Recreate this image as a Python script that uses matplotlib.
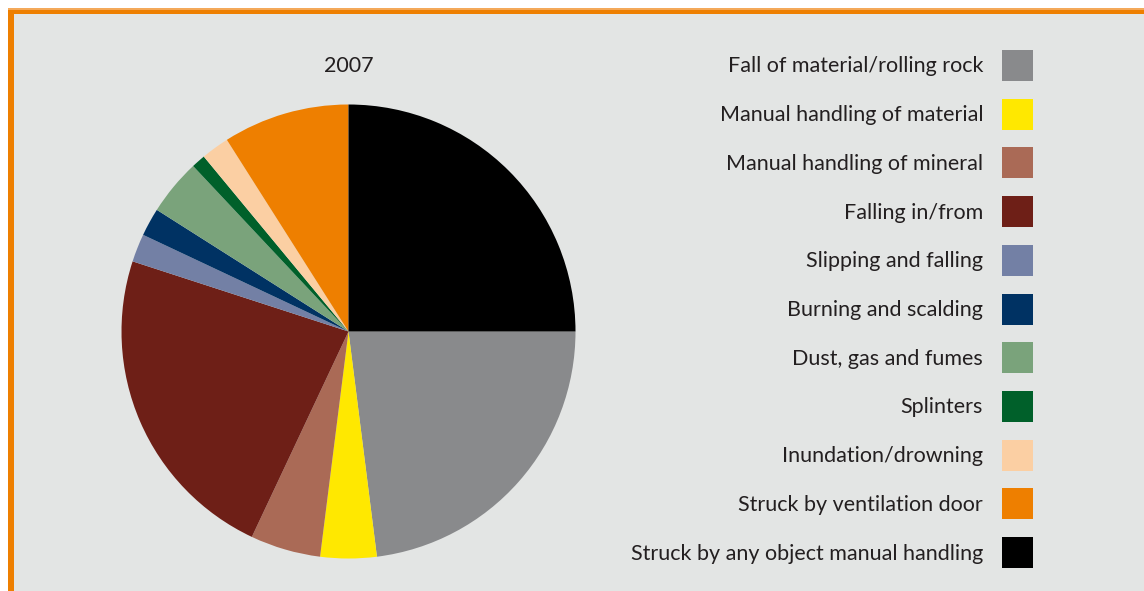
import matplotlib.pyplot as plt
from matplotlib.patches import Rectangle

plt.rcParams['font.family'] = ['Lato', 'DejaVu Sans']

categories = ['Fall of material/rolling rock', 'Manual handling of material',
              'Manual handling of mineral', 'Falling in/from', 'Slipping and falling',
              'Burning and scalding', 'Dust, gas and fumes', 'Splinters',
              'Inundation/drowning', 'Struck by ventilation door',
              'Struck by any object manual handling']
values = [23, 4, 5, 23, 2, 2, 4, 1, 2, 9, 25]
colors = ['#898a8c', '#ffe800', '#aa6a56', '#6e1f17', '#7380a5', '#003263',
          '#7aa37b', '#00602a', '#fbcfa3', '#ee7f00', '#000000']
title = '2007'

W, H = 1144, 591
bg = '#e3e5e4'
txt = '#231f20'

fig = plt.figure(figsize=(W / 100, H / 100), dpi=100)
fig.patch.set_facecolor('white')

# frame: gray panel with orange border top and left
base = fig.add_axes([0, 0, 1, 1])
base.set_xlim(0, W)
base.set_ylim(H, 0)
base.axis('off')
base.add_patch(Rectangle((8, 8), W - 8, H - 8, facecolor='#ee7f00', edgecolor='none'))
base.add_patch(Rectangle((8, 8), W - 8, 1.5, facecolor='#f4a95a', edgecolor='none'))
base.add_patch(Rectangle((13.5, 14), W - 13.5, H - 14, facecolor=bg, edgecolor='none'))

# legend rows
y0, step = 65.5, 48.7
for i, (lab, c) in enumerate(zip(categories, colors)):
    yc = y0 + i * step
    base.add_patch(Rectangle((1002, yc - 15.5), 31, 31, facecolor=c, edgecolor='none'))
    base.text(983, yc + 1, lab, ha='right', va='center', fontsize=15.5, color=txt)

base.text(349, 66, title, ha='center', va='center', fontsize=15.5, color=txt)

# pie
cx, cy, r = 348.5, 331.5, 227
ax = fig.add_axes([(cx - r) / W, (H - cy - r) / H, 2 * r / W, 2 * r / H])
ax.pie(values, colors=colors, startangle=0, counterclock=False,
       wedgeprops=dict(linewidth=0))
ax.set_xlim(-1, 1)
ax.set_ylim(-1, 1)
ax.axis('off')

fig.savefig('out.png', dpi=100, facecolor=fig.get_facecolor())
